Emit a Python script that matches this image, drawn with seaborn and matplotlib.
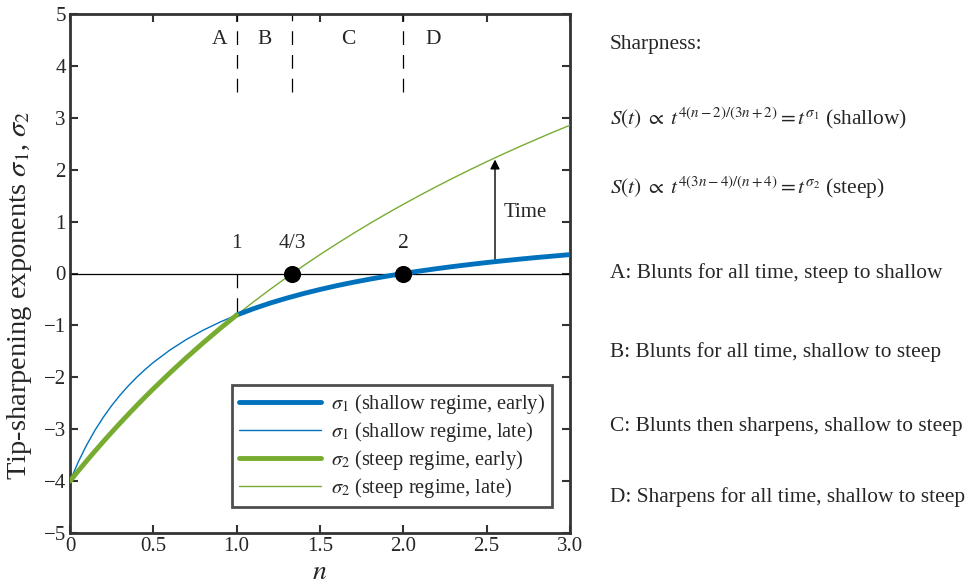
import numpy as np
import matplotlib
matplotlib.use("Agg")
import matplotlib.pyplot as plt
import seaborn as sns

# n grid and exponents
n_vals = [0.0, 0.05, 0.1, 0.15, 0.2, 0.25, 0.3, 0.35, 0.4, 0.45, 0.5,
          0.6, 0.7, 0.8, 0.9, 1.0, 1.1, 1.2, 1.3, 1.4, 1.5, 1.6, 1.7, 1.8,
          1.9, 2.0, 2.1, 2.2, 2.3, 2.4, 2.5, 2.6, 2.7, 2.8, 2.9, 3.0]
sigma1 = [-4.0, -3.628, -3.304, -3.020, -2.769, -2.545, -2.345, -2.164, -2.0,
          -1.851, -1.714, -1.474, -1.268, -1.091, -0.936, -0.8, -0.679, -0.571,
          -0.475, -0.387, -0.308, -0.235, -0.169, -0.108, -0.052, 0.0, 0.048,
          0.093, 0.135, 0.174, 0.211, 0.245, 0.277, 0.308, 0.336, 0.364]
sigma2 = [-4.0, -3.802, -3.610, -3.422, -3.238, -3.059, -2.884, -2.713, -2.545,
          -2.382, -2.222, -1.913, -1.617, -1.333, -1.061, -0.8, -0.549, -0.308,
          -0.075, 0.148, 0.364, 0.571, 0.772, 0.966, 1.153, 1.333, 1.508,
          1.677, 1.841, 2.0, 2.154, 2.303, 2.448, 2.588, 2.725, 2.857]

# zero crossings and regime boundaries
root_n = [4 / 3, 2.0]
root_labels = ["4/3", "2"]
bounds = [1.0, 4 / 3, 2.0]
regions = ["A", "B", "C", "D"]
region_x = [0.9, 1.17, 1.67, 2.18]

notes = [
    "Sharpness:",
    r"$S(t)\;\propto\;t^{4(n-2)/(3n+2)} = t^{\sigma_1}$ (shallow)",
    r"$S(t)\;\propto\;t^{4(3n-4)/(n+4)} = t^{\sigma_2}$ (steep)",
    "A: Blunts for all time, steep to shallow",
    "B: Blunts for all time, shallow to steep",
    "C: Blunts then sharpens, shallow to steep",
    "D: Sharpens for all time, shallow to steep",
]
notes_y = [45, 118, 188, 273, 352, 427, 497]

blue = "#0072BD"
green = "#77AC30"

sns.set_style("ticks")
plt.rcParams["font.family"] = ["Liberation Serif", "DejaVu Serif"]
plt.rcParams["mathtext.fontset"] = "stix"

fig = plt.figure(figsize=(9.7, 5.85), dpi=100)
ax = fig.add_axes([70 / 970, 1 - 533 / 585, 500 / 970, 519 / 585])

n = np.array(n_vals)
s1 = np.array(sigma1)
s2 = np.array(sigma2)
early = n >= 1.0
late = n <= 1.0

ax.axhline(0, color="black", lw=0.9, zorder=1)
sns.lineplot(x=n[early], y=s1[early], ax=ax, color=blue, lw=3.5,
             label=r"$\sigma_1$ (shallow regime, early)", zorder=4)
sns.lineplot(x=n[late], y=s1[late], ax=ax, color=blue, lw=1.0,
             label=r"$\sigma_1$ (shallow regime, late)", zorder=3)
sns.lineplot(x=n[late], y=s2[late], ax=ax, color=green, lw=3.5,
             label=r"$\sigma_2$ (steep regime, early)", zorder=4)
sns.lineplot(x=n[early], y=s2[early], ax=ax, color=green, lw=1.0,
             label=r"$\sigma_2$ (steep regime, late)", zorder=3)

sns.scatterplot(x=root_n, y=[0, 0], ax=ax, color="black", s=130,
                edgecolor="black", zorder=6, legend=False)

# dashed regime boundaries
for b in bounds:
    ax.plot([b, b], [3.5, 5], ls=(0, (11, 8)), color="black", lw=0.9)
ax.plot([1, 1], [0, -0.8], ls=(0, (11, 8)), color="black", lw=0.9)

for lab, x in zip(regions, region_x):
    ax.text(x, 4.5, lab, ha="center", va="center", fontsize=15.5)
for lab, x in zip(["1"] + root_labels, [1.0] + root_n):
    ax.text(x, 0.58, lab, ha="center", va="center", fontsize=15.5)

ax.annotate("", xy=(2.55, 2.25), xytext=(2.55, 0.21),
            arrowprops=dict(arrowstyle="-|>", color="black", lw=1.0,
                            mutation_scale=14))
ax.text(2.6, 1.18, "Time", ha="left", va="center", fontsize=15)

ax.set_xlim(0, 3)
ax.set_ylim(-5, 5)
ax.set_xticks([0, 0.5, 1.0, 1.5, 2.0, 2.5, 3.0])
ax.set_xticklabels(["0", "0.5", "1.0", "1.5", "2.0", "2.5", "3.0"])
ax.set_yticks(range(-5, 6))
ax.set_yticklabels([str(v).replace("-", "\u2212") for v in range(-5, 6)])
ax.tick_params(direction="in", length=6, width=1.5, labelsize=15,
               top=True, right=True, color="#333333", pad=3)
for sp in ax.spines.values():
    sp.set_linewidth(2)
    sp.set_color("#333333")
ax.set_xlabel(r"$n$", fontsize=20, labelpad=3)
ax.set_ylabel(r"Tip-sharpening exponents $\sigma_1$, $\sigma_2$", fontsize=20.5)
ax.yaxis.set_label_coords(-0.072, 0.457)

leg = ax.legend(loc="lower right", bbox_to_anchor=(0.985, 0.03), fontsize=14.7,
                frameon=True, fancybox=False, handlelength=4.0,
                borderpad=0.35, labelspacing=0.2, handletextpad=0.5,
                borderaxespad=0.5)
leg.get_frame().set_edgecolor("#222222")
leg.get_frame().set_linewidth(2)

for txt, y in zip(notes, notes_y):
    fig.text(610 / 970, 1 - y / 585, txt, ha="left", va="center", fontsize=15.4)

fig.savefig("out.png", dpi=100)
